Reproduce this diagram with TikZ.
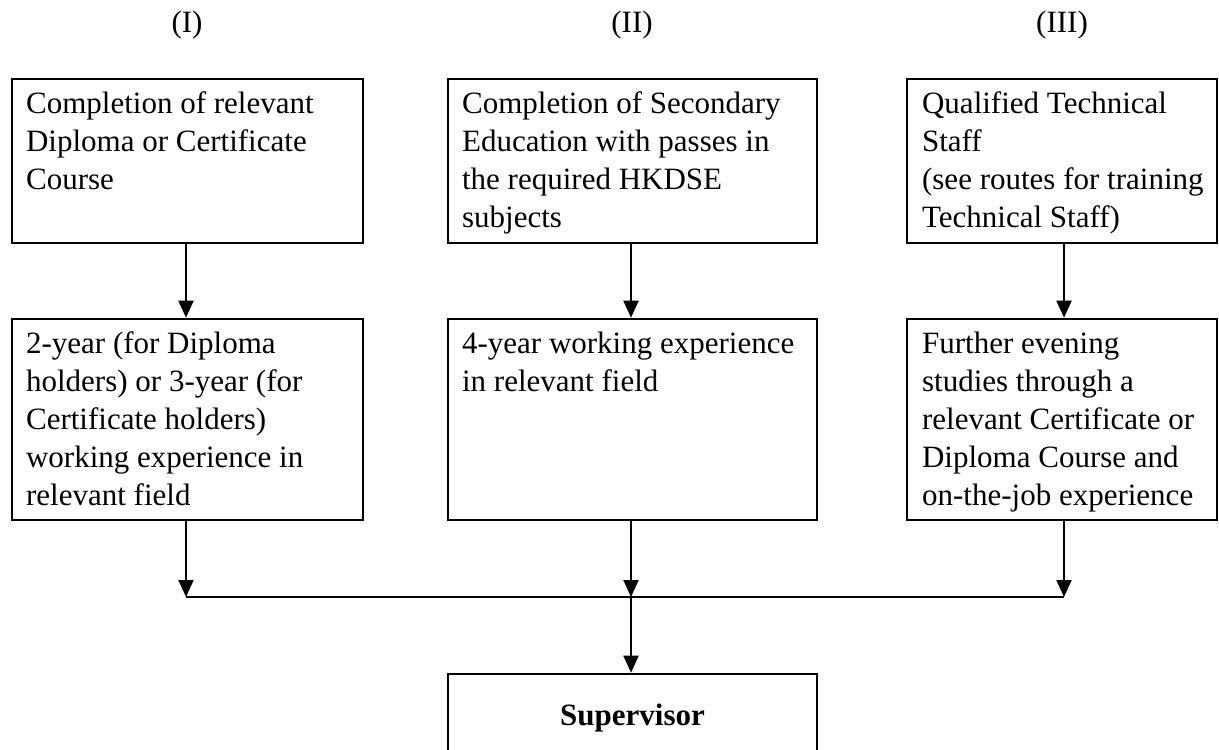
\documentclass[tikz,border=0pt]{standalone}
\usepackage{fontspec}
\setmainfont{Liberation Serif}
\usetikzlibrary{arrows.meta}
\newcommand{\boxtext}[1]{\parbox[t]{200pt}{\raggedright #1}}
\tikzset{
  boxnode/.style={draw, line width=1.3pt, inner sep=0pt, minimum height=#1},
  colone/.style={minimum width=175.5pt},
  coltwo/.style={minimum width=184.5pt},
  colthree/.style={minimum width=155pt},
  txt/.style={anchor=base west, inner sep=0pt, font=\fontsize{15.5pt}{19pt}\selectfont},
  flow/.style={line width=1pt, -{Triangle[length=8.5pt,width=7.5pt]}},
  joinline/.style={line width=1.4pt},
  head/.style={anchor=base, inner sep=0pt, font=\fontsize{15.5pt}{19pt}\selectfont}
}
\begin{document}
\begin{tikzpicture}[x=0.5pt,y=-0.5pt]
\useasboundingbox (0,0) rectangle (1219,749);
\clip (0,0) rectangle (1219,749);
\fill[white] (0,0) rectangle (1219,749);

% column headings
\node[head] (h1) at (187,33) {(I)};
\node[head] (h2) at (632,33) {(II)};
\node[head] (h3) at (1062,33) {(III)};

% upper boxes
\node[boxnode=82pt, colone] (b1) at (187.5,161) {};
\node[boxnode=82pt, coltwo] (b2) at (632.5,161) {};
\node[boxnode=82pt, colthree] (b3) at (1062,161) {};

% lower boxes
\node[boxnode=100.5pt, colone] (b4) at (187.5,419.5) {};
\node[boxnode=100.5pt, coltwo] (b5) at (632.5,419.5) {};
\node[boxnode=100.5pt, colthree] (b6) at (1062,419.5) {};

% supervisor box (runs past the lower edge)
\node[boxnode=63pt, coltwo] (sup) at (632.5,737) {};

% texts
\node[txt] (t1) at ([xshift=7.5pt,yshift=-18pt]b1.north west)
  {\boxtext{Completion of relevant\\Diploma or Certificate\\Course}};
\node[txt] (t2) at ([xshift=7.5pt,yshift=-18pt]b2.north west)
  {\boxtext{Completion of Secondary\\Education with passes in\\the required HKDSE\\subjects}};
\node[txt] (t3) at ([xshift=8pt,yshift=-18pt]b3.north west)
  {\boxtext{Qualified Technical\\Staff\\(see routes for training\\Technical Staff)}};
\node[txt] (t4) at ([xshift=7.5pt,yshift=-18pt]b4.north west)
  {\boxtext{2-year (for Diploma\\holders) or 3-year (for\\Certificate holders)\\working experience in\\relevant field}};
\node[txt] (t5) at ([xshift=7.5pt,yshift=-18pt]b5.north west)
  {\boxtext{4-year working experience\\in relevant field}};
\node[txt] (t6) at ([xshift=8pt,yshift=-18pt]b6.north west)
  {\boxtext{Further evening\\studies through a\\relevant Certificate or\\Diploma Course and\\on-the-job experience}};
\node[head, font=\fontsize{15.5pt}{19pt}\selectfont\bfseries] (ts) at (632.5,725) {Supervisor};

% junction points
\coordinate (jL) at (186,597);
\coordinate (jM) at (631,597);
\coordinate (jR) at (1064,597);

% arrows between upper and lower boxes
\draw[flow] (b1.south -| jL) -- (b4.north -| jL);
\draw[flow] (b2.south -| jM) -- (b5.north -| jM);
\draw[flow] (b3.south -| jR) -- (b6.north -| jR);

% arrows to joining line
\draw[flow] (b4.south -| jL) -- (jL);
\draw[flow] (b5.south -| jM) -- (jM);
\draw[flow] (b6.south -| jR) -- (jR);
\draw[joinline] (jL) -- (jR);

% arrow to supervisor
\draw[flow] (jM) -- (sup.north -| jM);
\end{tikzpicture}
\end{document}
